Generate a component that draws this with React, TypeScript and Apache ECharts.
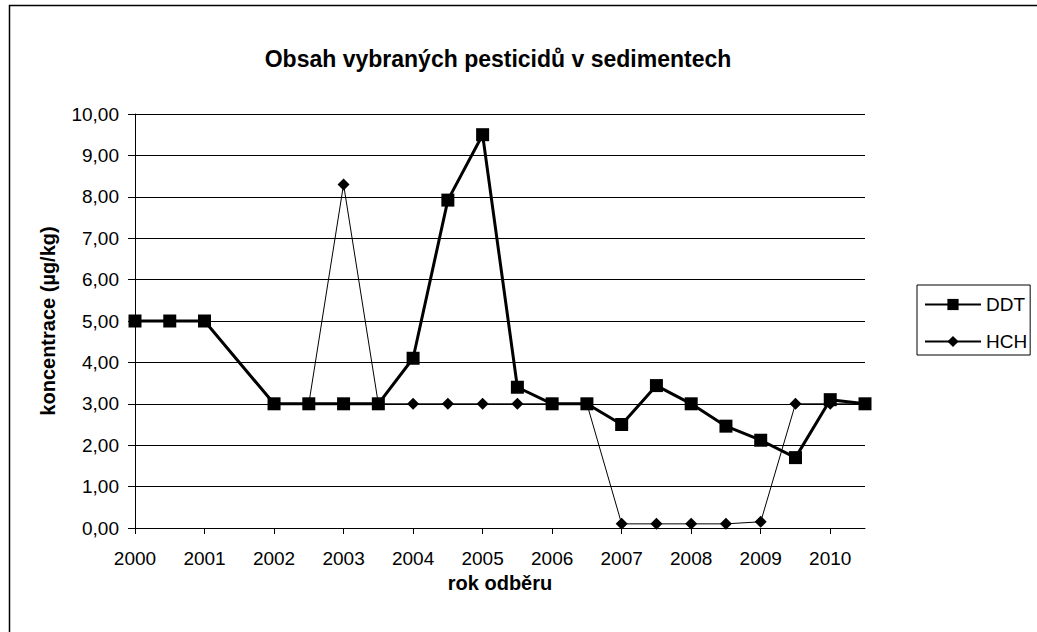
import React, { useEffect, useRef } from "react";
import * as echarts from "echarts";

const years = [
  "2000", "2000.5", "2001", "2001.5", "2002", "2002.5", "2003", "2003.5",
  "2004", "2004.5", "2005", "2005.5", "2006", "2006.5", "2007", "2007.5",
  "2008", "2008.5", "2009", "2009.5", "2010", "2010.5",
];
const ddt = [
  5.0, 5.0, 5.0, null, 3.0, 3.0, 3.0, 3.0,
  4.1, 7.92, 9.5, 3.4, 3.0, 3.0, 2.5, 3.44,
  3.0, 2.46, 2.12, 1.7, 3.1, 3.0,
];
const hch = [
  null, null, null, null, 3.0, 3.0, 8.3, 3.0,
  3.0, 3.0, 3.0, 3.0, 3.0, 3.0, 0.1, 0.1,
  0.1, 0.1, 0.15, 3.0, 3.0, 3.0,
];

const FONT = "Liberation Sans, Arial, sans-serif";

export default function App() {
  const ref = useRef<HTMLDivElement>(null);
  useEffect(() => {
    const chart = echarts.init(ref.current!, undefined, { renderer: "svg" });
    chart.setOption({
      animation: false,
      backgroundColor: "#fff",
      textStyle: { fontFamily: FONT, color: "#000" },
      title: {
        text: "Obsah vybraných pesticidů v sedimentech",
        left: 493,
        top: 42,
        textAlign: "center",
        textStyle: { fontFamily: FONT, fontSize: 23, fontWeight: "bold", color: "#000" },
      },
      graphic: [
        {
          type: "rect",
          shape: { x: 9.5, y: 5.5, width: 1100, height: 700 },
          style: { fill: "none", stroke: "#000", lineWidth: 1.5 },
          silent: true,
        },
      ],
      legend: {
        orient: "vertical",
        left: 917,
        top: 285,
        itemWidth: 56,
        itemHeight: 14,
        itemGap: 18,
        padding: [10, 3, 4, 7],
        borderColor: "#000",
        borderWidth: 1,
        textStyle: { fontFamily: FONT, fontSize: 19, color: "#000" },
        data: ["DDT", "HCH"],
      },
      grid: { left: 135, right: 172, top: 114, bottom: 104, containLabel: false },
      xAxis: {
        type: "category",
        data: years,
        boundaryGap: false,
        name: "rok odběru",
        nameLocation: "middle",
        nameGap: 45,
        nameTextStyle: { fontFamily: FONT, fontSize: 20, fontWeight: "bold", color: "#000" },
        axisLine: { lineStyle: { color: "#000", width: 1 } },
        axisTick: { show: true, interval: 1, length: 6, lineStyle: { color: "#000" } },
        axisLabel: {
          interval: 1,
          fontFamily: FONT,
          fontSize: 19,
          color: "#000",
          margin: 21,
          formatter: (v: string) => (v.indexOf(".") >= 0 ? "" : v),
        },
        splitLine: { show: false },
      },
      yAxis: {
        type: "value",
        min: 0,
        max: 10,
        interval: 1,
        name: "koncentrace (µg/kg)",
        nameLocation: "middle",
        nameGap: 77,
        nameRotate: 90,
        nameTextStyle: { fontFamily: FONT, fontSize: 20, fontWeight: "bold", color: "#000" },
        axisLine: { show: true, lineStyle: { color: "#000", width: 1 } },
        axisTick: { show: true, length: 7, lineStyle: { color: "#000" } },
        axisLabel: {
          fontFamily: FONT,
          fontSize: 19,
          color: "#000",
          margin: 16,
          formatter: (v: number) => v.toFixed(2).replace(".", ","),
        },
        splitLine: { show: true, lineStyle: { color: "#000", width: 1 } },
      },
      series: [
        {
          name: "DDT",
          type: "line",
          data: ddt,
          connectNulls: true,
          symbol: "rect",
          symbolSize: 13,
          lineStyle: { color: "#000", width: 3 },
          itemStyle: { color: "#000" },
          z: 2,
        },
        {
          name: "HCH",
          type: "line",
          data: hch,
          connectNulls: true,
          symbol: "diamond",
          symbolSize: 12,
          lineStyle: { color: "#000", width: 1 },
          itemStyle: { color: "#000" },
          z: 3,
        },
      ],
    });
    return () => chart.dispose();
  }, []);
  return (
    <div
      ref={ref}
      style={{ position: "fixed", left: 0, top: 0, width: 1037, height: 632, background: "#fff" }}
    />
  );
}
